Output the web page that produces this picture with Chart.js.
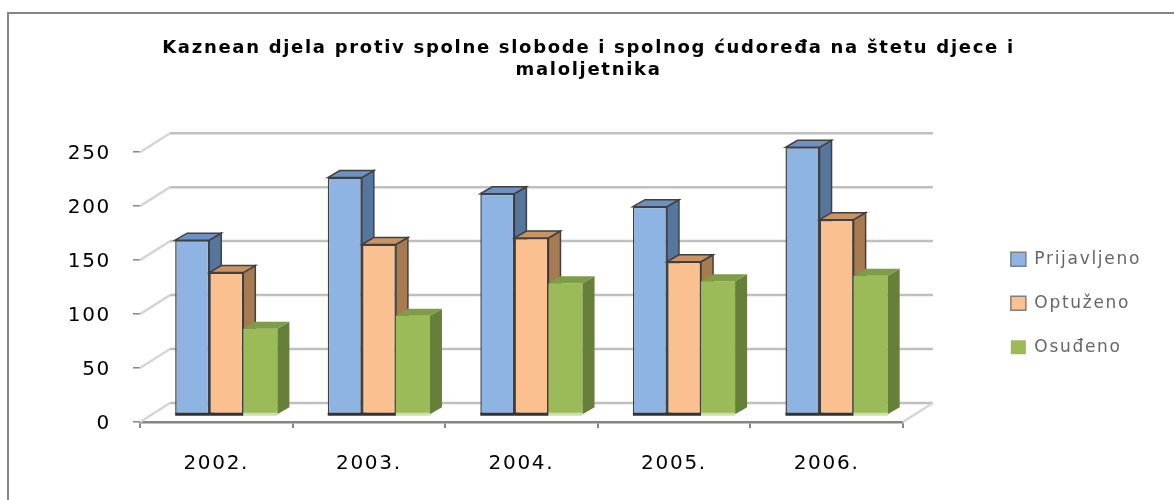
<!DOCTYPE html>
<html>
<head>
<meta charset="utf-8">
<script src="https://cdn.jsdelivr.net/npm/chart.js@4/dist/chart.umd.min.js"></script>
<style>
  html, body { margin: 0; padding: 0; background: #fff; overflow: hidden; }
  #okvir { position: absolute; left: 7px; top: 12px; width: 1200px; height: 520px; border: 2px solid #868686; }
  #graf { position: absolute; left: 0; top: 0; }
</style>
</head>
<body>
<div id="okvir"></div>
<canvas id="graf" width="1174" height="500"></canvas>
<script>
// Podaci očitani s grafa
const godine = ['2002.', '2003.', '2004.', '2005.', '2006.'];
const prijavljeno = [162, 220, 205, 193, 248];
const optuzeno = [132, 158, 164, 142, 181];
const osudeno = [80, 92, 122, 124, 129];
const nazivi = ['Prijavljeno', 'Optuženo', 'Osuđeno'];
const naslov = ['Kaznean djela protiv spolne slobode i spolnog ćudoređa na štetu djece i', 'maloljetnika'];

// izgled 3D efekta
const ZID = { dx: 30, dy: -19 };      // prednja ravnina -> stražnji zid
const RAVNINA = { dx: 10, dy: -7 };   // prednja ravnina -> ravnina stupaca
const DUBINA = { dx: 12, dy: -7 };    // dubina samog stupca
const boje = [
  { lice: '#8EB4E3', bok: '#56769E', vrh: '#6C91C2', rub: '#404040', dno: '#333333' },
  { lice: '#FAC090', bok: '#A77B52', vrh: '#C99363', rub: '#404040', dno: '#333333' },
  { lice: '#9BBB59', bok: '#667F39', vrh: '#7F9C46', rub: null, dno: '#CDDFAA' }
];
const font = (size, weight) => ({ family: 'DejaVu Sans', size: size, weight: weight || 'normal' });

const efekt3D = {
  id: 'efekt3D',
  beforeUpdate(chart) { chart.ctx.letterSpacing = '1.7px'; },
  beforeDraw(chart) { chart.ctx.letterSpacing = '1.7px'; },
  beforeDatasetsDraw(chart) {
    const { ctx, chartArea: a, scales: { y } } = chart;
    ctx.save();
    ctx.lineWidth = 2.5;
    y.ticks.forEach(t => {
      const yy = y.getPixelForValue(t.value);
      ctx.strokeStyle = '#d6d6d6';
      ctx.beginPath(); ctx.moveTo(a.left, yy); ctx.lineTo(a.left + ZID.dx, yy + ZID.dy); ctx.stroke();
      ctx.strokeStyle = '#c0c0c0';
      ctx.beginPath(); ctx.moveTo(a.left + ZID.dx, yy + ZID.dy); ctx.lineTo(a.right + ZID.dx, yy + ZID.dy); ctx.stroke();
    });
    const y0 = y.getPixelForValue(0);
    ctx.strokeStyle = '#d6d6d6';
    ctx.beginPath(); ctx.moveTo(a.right, y0); ctx.lineTo(a.right + ZID.dx, y0 + ZID.dy); ctx.stroke();
    ctx.restore();
  },
  // stupce crtamo sami nize, redom P, O, O da se bokovi pravilno preklapaju
  beforeDatasetDraw() { return false; },
  afterDatasetsDraw(chart) {
    const ctx = chart.ctx;
    ctx.save();
    ctx.translate(RAVNINA.dx, RAVNINA.dy);
    chart.data.datasets.forEach((ds, i) => {
      const b = boje[i];
      chart.getDatasetMeta(i).data.forEach(bar => {
        bar.draw(ctx, chart.chartArea);
        const { x, y, base, width } = bar.getProps(['x', 'y', 'base', 'width'], true);
        const l = x - width / 2, r = x + width / 2;
        ctx.save();
        ctx.lineWidth = 1.5;
        ctx.strokeStyle = b.rub || b.bok;
        // bok
        ctx.fillStyle = b.bok;
        ctx.beginPath();
        ctx.moveTo(r, y); ctx.lineTo(r + DUBINA.dx, y + DUBINA.dy);
        ctx.lineTo(r + DUBINA.dx, base + DUBINA.dy); ctx.lineTo(r, base); ctx.closePath();
        ctx.fill(); if (b.rub) ctx.stroke();
        // vrh
        ctx.fillStyle = b.vrh;
        ctx.beginPath();
        ctx.moveTo(l, y); ctx.lineTo(l + DUBINA.dx, y + DUBINA.dy);
        ctx.lineTo(r + DUBINA.dx, y + DUBINA.dy); ctx.lineTo(r, y); ctx.closePath();
        ctx.fill(); if (b.rub) ctx.stroke();
        // dno
        ctx.strokeStyle = b.dno; ctx.lineWidth = 3;
        ctx.beginPath(); ctx.moveTo(l, base); ctx.lineTo(r, base); ctx.stroke();
        ctx.restore();
      });
    });
    ctx.restore();
  }
};

const skupovi = [prijavljeno, optuzeno, osudeno].map((podaci, i) => ({
  label: nazivi[i],
  data: podaci,
  backgroundColor: boje[i].lice,
  borderColor: boje[i].rub || boje[i].lice,
  borderWidth: boje[i].rub ? 1.5 : 0,
  borderSkipped: false
}));

new Chart(document.getElementById('graf').getContext('2d'), {
  type: 'bar',
  data: { labels: godine, datasets: skupovi },
  plugins: [efekt3D],
  options: {
    responsive: false,
    animation: false,
    datasets: { bar: { barPercentage: 1, categoryPercentage: 0.67, clip: false } },
    layout: { padding: { left: 26, right: 23, top: 0, bottom: 0 } },
    plugins: {
      title: {
        display: true, text: naslov, color: '#000', font: font(18, 'bold'),
        padding: { top: 38, bottom: 71 }
      },
      legend: {
        position: 'right',
        fullSize: false,
        title: { display: true, text: '', font: { size: 12 }, padding: { top: 9, bottom: 9 } },
        labels: {
          font: font(17), color: '#000', boxWidth: 15, boxHeight: 14, padding: 27,
          generateLabels: chart => chart.data.datasets.map((ds, i) => ({
            text: ds.label,
            fillStyle: boje[i].lice,
            strokeStyle: boje[i].rub ? '#7f7f7f' : boje[i].lice,
            lineWidth: boje[i].rub ? 1.5 : 0,
            hidden: false,
            datasetIndex: i
          }))
        }
      },
      tooltip: { enabled: false }
    },
    scales: {
      x: {
        grid: { display: true, drawOnChartArea: false, drawTicks: true, tickLength: 6, color: '#868686', lineWidth: 2 },
        border: { display: true, color: '#868686', width: 2.5 },
        ticks: { font: font(20), color: '#000', padding: 24 },
        afterFit: s => { s.height = 78; }
      },
      y: {
        min: 0, max: 250,
        ticks: { stepSize: 50, font: font(20), color: '#000', padding: 22, labelOffset: 2 },
        grid: { display: true, drawOnChartArea: false, drawTicks: true, tickLength: 7, color: '#868686', lineWidth: 1.5 },
        border: { display: false },
        afterFit: s => { s.width = 114; }
      },
      y2: {
        type: 'linear', position: 'right',
        grid: { display: false }, ticks: { display: false }, border: { display: false },
        afterFit: s => { s.width = 81; }
      }
    }
  }
});
</script>
</body>
</html>
